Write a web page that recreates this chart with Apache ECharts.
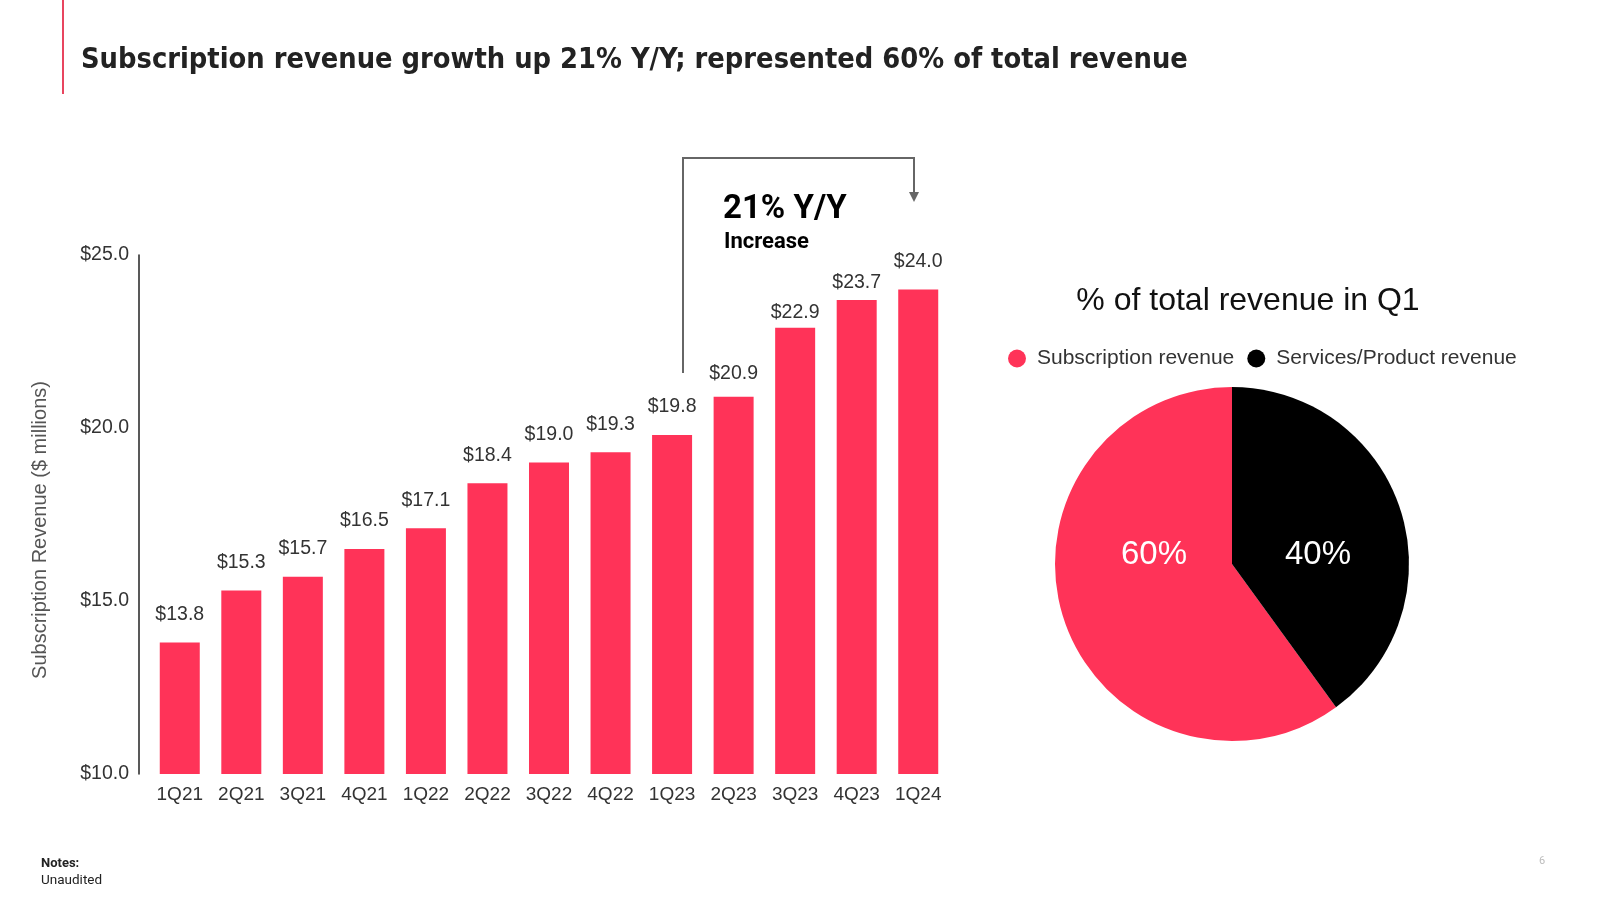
<!DOCTYPE html>
<html>
<head>
<meta charset="utf-8">
<script src="https://cdn.jsdelivr.net/npm/echarts@6/dist/echarts.min.js"></script>
<style>
html,body{margin:0;padding:0;background:#fff;}
#c{width:1600px;height:900px;}
</style>
</head>
<body>
<div id="c"></div>
<script>
const categories = ['1Q21','2Q21','3Q21','4Q21','1Q22','2Q22','3Q22','4Q22','1Q23','2Q23','3Q23','4Q23','1Q24'];
const revenue = [13.8, 15.3, 15.7, 16.5, 17.1, 18.4, 19.0, 19.3, 19.8, 20.9, 22.9, 23.7, 24.0];
const pieNames = ['Subscription revenue', 'Services/Product revenue'];
const pieShares = [60, 40];
const yTicks = [10, 15, 20, 25];

const TITLE = 'Subscription revenue growth up 21% Y/Y; represented 60% of total revenue';
const TITLE_FONT = '"DejaVu Sans Condensed"';
// fit title to the reference width
const cv = document.createElement('canvas').getContext('2d');
cv.font = 'bold 30px ' + TITLE_FONT;
const titleSize = Math.min(31, 30 * 1107 / cv.measureText(TITLE).width);

const RED = '#ff3358';
const labelDist = { 9: 13, 10: 5, 11: 7 };
const barData = revenue.map((v, i) => labelDist[i] !== undefined
  ? { value: v, label: { distance: labelDist[i] } } : v);

const chart = echarts.init(document.getElementById('c'));
chart.setOption({
  backgroundColor: '#fff',
  animation: false,
  textStyle: { fontFamily: 'Liberation Sans' },
  title: [
    { text: TITLE, left: 76, top: 56, textVerticalAlign: 'middle',
      textStyle: { fontFamily: TITLE_FONT, fontWeight: 'bold', fontSize: titleSize, color: '#222', verticalAlign: 'middle' } },
    { text: '% of total revenue in Q1', left: 1243, top: 280, textAlign: 'center',
      textStyle: { fontFamily: 'Liberation Sans', fontWeight: 'normal', fontSize: 32, color: '#111' } }
  ],
  legend: {
    data: pieNames, left: 1003, top: 343, itemGap: 13, icon: 'circle', itemWidth: 30, itemHeight: 18,
    textStyle: { fontSize: 21, color: '#333' }
  },
  grid: { left: 149, top: 255, width: 800, height: 519 },
  xAxis: {
    type: 'category', data: categories,
    axisLine: { show: false }, axisTick: { show: false },
    axisLabel: { interval: 0, fontSize: 19, color: '#333', margin: 11 }
  },
  yAxis: {
    type: 'value', min: yTicks[0], max: yTicks[yTicks.length - 1], interval: 5, offset: 10,
    axisLine: { show: true, lineStyle: { color: '#222', width: 1.5 } },
    axisTick: { show: false }, splitLine: { show: false },
    axisLabel: { fontSize: 19.5, color: '#333', margin: 10, formatter: v => '$' + v.toFixed(1) }
  },
  series: [
    { type: 'bar', data: barData, barWidth: 40, itemStyle: { color: RED },
      label: { show: true, position: 'top', distance: 18, fontSize: 19.5, color: '#333',
               formatter: p => '$' + p.value.toFixed(1) } },
    { type: 'pie', center: [1232, 564], radius: 177, clockwise: false, startAngle: 90,
      data: [
        { name: pieNames[0], value: pieShares[0], itemStyle: { color: RED }, label: { offset: [9, -37] } },
        { name: pieNames[1], value: pieShares[1], itemStyle: { color: '#000' }, label: { offset: [-1, 19] } }
      ],
      label: { show: true, position: 'inside', fontSize: 33, color: '#fff', formatter: p => p.value + '%' },
      labelLine: { show: false }, emphasis: { disabled: true } }
  ],
  graphic: [
    { type: 'rect', shape: { x: 62, y: 0, width: 2, height: 94 }, style: { fill: '#e8455f' } },
    { type: 'text', x: 40, y: 530, rotation: Math.PI / 2,
      style: { text: 'Subscription Revenue ($ millions)', font: '20px "Liberation Sans"', fill: '#555',
               textAlign: 'center', textVerticalAlign: 'middle', align: 'center', verticalAlign: 'middle' } },
    { type: 'polyline', shape: { points: [[683, 373], [683, 158], [914, 158], [914, 195]] },
      style: { stroke: '#666', lineWidth: 2, fill: null } },
    { type: 'polygon', shape: { points: [[909, 192], [919, 192], [914, 202]] }, style: { fill: '#666' } },
    { type: 'text', left: 723, top: 193, style: { text: '21% Y/Y', font: 'bold 33px Roboto', fill: '#000' } },
    { type: 'text', left: 724, top: 231, style: { text: 'Increase', font: 'bold 22px Roboto', fill: '#000' } },
    { type: 'text', left: 41, top: 857, style: { text: 'Notes:', font: 'bold 13px Roboto', fill: '#222' } },
    { type: 'text', left: 41, top: 874, style: { text: 'Unaudited', font: '13.5px Roboto', fill: '#222' } },
    { type: 'text', left: 1539, top: 856, style: { text: '6', font: '11px Roboto', fill: '#bbb' } }
  ]
});
</script>
</body>
</html>
